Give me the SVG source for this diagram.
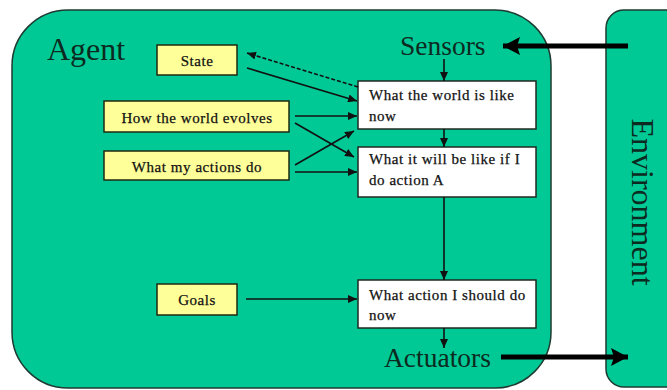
<svg xmlns="http://www.w3.org/2000/svg" width="667" height="390" viewBox="0 0 667 390">
  <style>
    .panel { fill: #00C996; stroke: #1d3b30; stroke-width: 1.5; }
    .yel { fill: #FFFF99; stroke: #1f2a10; stroke-width: 1.5; }
    .wht { fill: #FFFFFF; stroke: #1f2a20; stroke-width: 1.5; }
    .big { font-family: "Liberation Serif", "Times New Roman", serif; fill: #0d2a20; }
    .lbl { font-family: "Liberation Serif", "Times New Roman", serif; font-size: 15px; fill: #111; stroke: #111; stroke-width: 0.25; letter-spacing: 0.55px; }
    .mid { text-anchor: middle; }
    .edge { fill: none; stroke: #111; stroke-width: 1.6; }
    .thick { fill: none; stroke: #000; stroke-width: 5; }
  </style>
  <defs>
    <marker id="ah" markerUnits="userSpaceOnUse" markerWidth="10" markerHeight="8" refX="9" refY="4" orient="auto">
      <path d="M0,0 L9,4 L0,8 Z" fill="#111"/>
    </marker>
    <marker id="ahBig" markerUnits="userSpaceOnUse" markerWidth="18" markerHeight="18" refX="17" refY="9" orient="auto">
      <path d="M0,0 L17,9 L0,18 L3,9 Z" fill="#000"/>
    </marker>
  </defs>

  <!-- outer panels -->
  <g id="agent">
    <rect class="panel" x="12" y="10" width="539" height="378" rx="56" ry="56"/>
    <text class="big" x="47" y="60" font-size="32">Agent</text>
  </g>
  <g id="environment">
    <rect class="panel" x="606" y="10" width="90" height="377" rx="18" ry="18"/>
    <text class="big" transform="translate(632,202) rotate(90)" text-anchor="middle" font-size="32">Environment</text>
  </g>

  <g id="sensors"><text class="big" x="400" y="55" font-size="27.5">Sensors</text></g>
  <g id="actuators"><text class="big" x="384" y="367" font-size="27.5">Actuators</text></g>

  <!-- knowledge boxes -->
  <g id="state">
    <rect class="yel" x="157" y="45" width="80" height="30"/>
    <text class="lbl mid" x="197" y="66">State</text>
  </g>
  <g id="world-evolves">
    <rect class="yel" x="104" y="101" width="185" height="31"/>
    <text class="lbl mid" x="197" y="123">How the world evolves</text>
  </g>
  <g id="my-actions">
    <rect class="yel" x="104" y="151" width="185" height="29"/>
    <text class="lbl mid" x="197" y="172">What my actions do</text>
  </g>
  <g id="goals">
    <rect class="yel" x="157" y="284" width="80" height="31"/>
    <text class="lbl mid" x="197" y="305">Goals</text>
  </g>

  <!-- reasoning boxes -->
  <g id="world-now">
    <rect class="wht" x="358" y="81" width="178" height="48"/>
    <text class="lbl" x="369" y="100">What the world is like</text>
    <text class="lbl" x="369" y="121">now</text>
  </g>
  <g id="predict">
    <rect class="wht" x="358" y="147" width="178" height="50"/>
    <text class="lbl" x="369" y="164">What it will be like if I</text>
    <text class="lbl" x="369" y="185">do action A</text>
  </g>
  <g id="decide">
    <rect class="wht" x="358" y="280" width="178" height="48"/>
    <text class="lbl" x="369" y="300">What action I should do</text>
    <text class="lbl" x="369" y="320">now</text>
  </g>

  <g id="connectors">
    <line class="thick" x1="628" y1="46" x2="503" y2="46" marker-end="url(#ahBig)"/>
    <line class="thick" x1="501" y1="357" x2="628" y2="357" stroke-width="4" marker-end="url(#ahBig)"/>
    <line class="edge" x1="444" y1="59" x2="444" y2="81" marker-end="url(#ah)"/>
    <line class="edge" x1="444" y1="129" x2="444" y2="147" marker-end="url(#ah)"/>
    <line class="edge" x1="444" y1="197" x2="444" y2="280" marker-end="url(#ah)"/>
    <line class="edge" x1="444" y1="328" x2="444" y2="348" marker-end="url(#ah)"/>
    <line class="edge" x1="358" y1="87" x2="247" y2="53" stroke-dasharray="4 2" marker-end="url(#ah)"/>
    <line class="edge" x1="247" y1="68" x2="357" y2="101" marker-end="url(#ah)"/>
    <line class="edge" x1="295" y1="116" x2="357" y2="116" marker-end="url(#ah)"/>
    <line class="edge" x1="295" y1="123" x2="354" y2="157" marker-end="url(#ah)"/>
    <line class="edge" x1="295" y1="165" x2="354" y2="131" marker-end="url(#ah)"/>
    <line class="edge" x1="295" y1="172" x2="357" y2="172" marker-end="url(#ah)"/>
    <line class="edge" x1="246" y1="299" x2="357" y2="299" marker-end="url(#ah)"/>
  </g>
</svg>
